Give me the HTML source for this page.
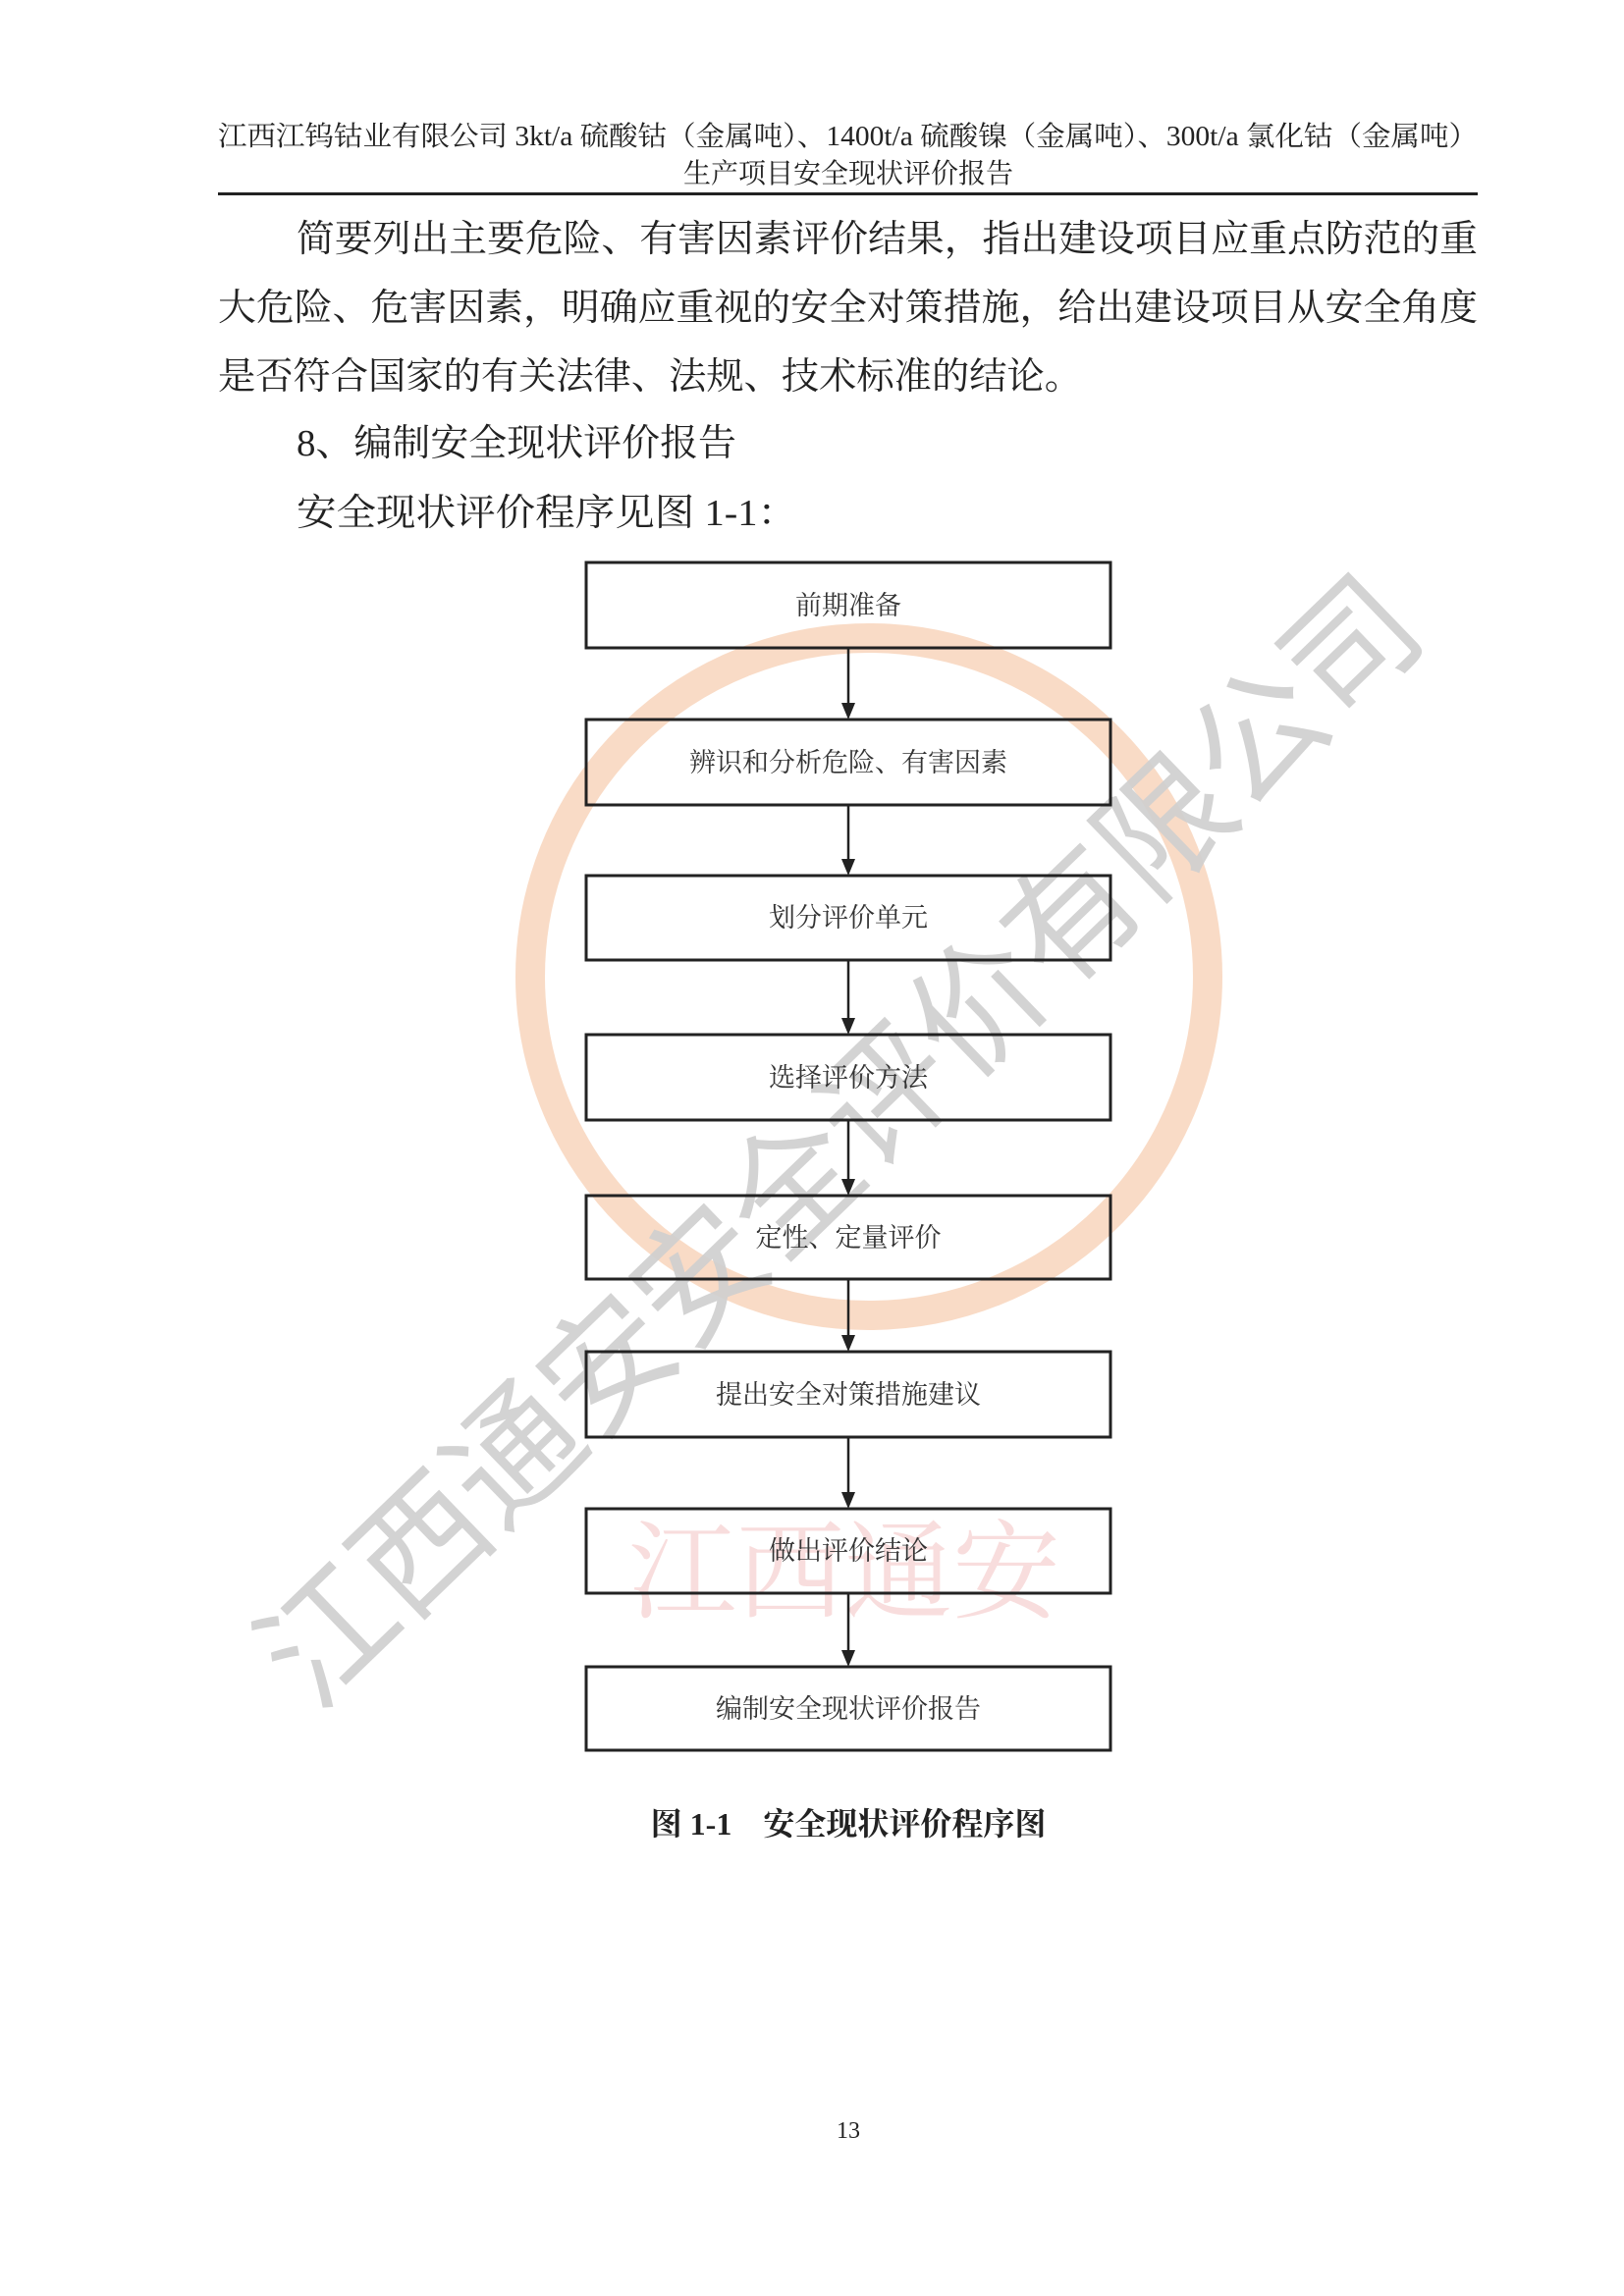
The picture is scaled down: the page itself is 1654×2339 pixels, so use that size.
<!DOCTYPE html>
<html><head><meta charset="utf-8"><style>
html,body{margin:0;padding:0;background:#fff}
svg{display:block}
text{font-family:"Liberation Serif","Noto Serif CJK SC","Noto Sans CJK SC",serif;fill:#222}
.b{font-family:"Liberation Serif","Noto Serif CJK SC",serif;font-size:27px;text-anchor:middle;fill:#333}
</style></head><body>
<svg width="1654" height="2339" viewBox="0 0 1654 2339" xmlns="http://www.w3.org/2000/svg">
<!-- watermark -->
<circle cx="885" cy="995" r="345" fill="none" stroke="#f8d2b8" stroke-width="30" opacity="0.8"/>
<text x="860" y="1640" font-size="110" text-anchor="middle" style="fill:#f5c8c8" opacity="0.6">江西通安</text>
<text transform="translate(320,1745) rotate(-44)" font-size="135" textLength="1580" lengthAdjust="spacingAndGlyphs" style="fill:#cfcfcf;font-family:'Noto Sans CJK SC',sans-serif" opacity="0.9">江西通安安全评价有限公司</text>
<!-- header -->
<text x="222" y="148" font-size="28" textLength="1283" lengthAdjust="spacingAndGlyphs">江西江钨钴业有限公司 3kt/a 硫酸钴（金属吨）、1400t/a 硫酸镍（金属吨）、300t/a 氯化钴（金属吨）</text>
<text x="864" y="186" font-size="28" text-anchor="middle">生产项目安全现状评价报告</text>
<rect x="222" y="196" width="1283" height="3" fill="#222"/>
<!-- paragraph -->
<text x="302" y="256" font-size="38" textLength="1203" lengthAdjust="spacingAndGlyphs">简要列出主要危险、有害因素评价结果，指出建设项目应重点防范的重</text>
<text x="222" y="326" font-size="38" textLength="1283" lengthAdjust="spacingAndGlyphs">大危险、危害因素，明确应重视的安全对策措施，给出建设项目从安全角度</text>
<text x="222" y="396" font-size="38" textLength="880" lengthAdjust="spacingAndGlyphs">是否符合国家的有关法律、法规、技术标准的结论。</text>
<text x="302" y="464" font-size="38" textLength="448" lengthAdjust="spacingAndGlyphs">8、编制安全现状评价报告</text>
<text x="302" y="535" font-size="38" textLength="510" lengthAdjust="spacingAndGlyphs">安全现状评价程序见图 1-1：</text>
<!-- boxes -->
<g fill="#fff" fill-opacity="0" stroke="#222" stroke-width="3">
<rect x="597" y="573" width="534" height="87"/>
<rect x="597" y="733" width="534" height="87"/>
<rect x="597" y="892" width="534" height="86"/>
<rect x="597" y="1054" width="534" height="87"/>
<rect x="597" y="1218" width="534" height="85"/>
<rect x="597" y="1377" width="534" height="87"/>
<rect x="597" y="1537" width="534" height="86"/>
<rect x="597" y="1698" width="534" height="85"/>
</g>
<g stroke="#222" stroke-width="2.5">
<line x1="864" y1="660" x2="864" y2="718"/>
<line x1="864" y1="820" x2="864" y2="877"/>
<line x1="864" y1="978" x2="864" y2="1039"/>
<line x1="864" y1="1141" x2="864" y2="1203"/>
<line x1="864" y1="1303" x2="864" y2="1362"/>
<line x1="864" y1="1464" x2="864" y2="1522"/>
<line x1="864" y1="1623" x2="864" y2="1683"/>
</g>
<g fill="#222">
<polygon points="857,716 871,716 864,733"/>
<polygon points="857,875 871,875 864,892"/>
<polygon points="857,1037 871,1037 864,1054"/>
<polygon points="857,1201 871,1201 864,1218"/>
<polygon points="857,1360 871,1360 864,1377"/>
<polygon points="857,1520 871,1520 864,1537"/>
<polygon points="857,1681 871,1681 864,1698"/>
</g>
<text class="b" x="864" y="626">前期准备</text>
<text class="b" x="864" y="786">辨识和分析危险、有害因素</text>
<text class="b" x="864" y="944">划分评价单元</text>
<text class="b" x="864" y="1107">选择评价方法</text>
<text class="b" x="864" y="1270">定性、定量评价</text>
<text class="b" x="864" y="1430">提出安全对策措施建议</text>
<text class="b" x="864" y="1589">做出评价结论</text>
<text class="b" x="864" y="1750">编制安全现状评价报告</text>
<text x="864" y="1869" font-size="32" font-weight="bold" text-anchor="middle">图 1-1　安全现状评价程序图</text>
<text x="864" y="2178" font-size="24" text-anchor="middle">13</text>
</svg>
</body></html>
